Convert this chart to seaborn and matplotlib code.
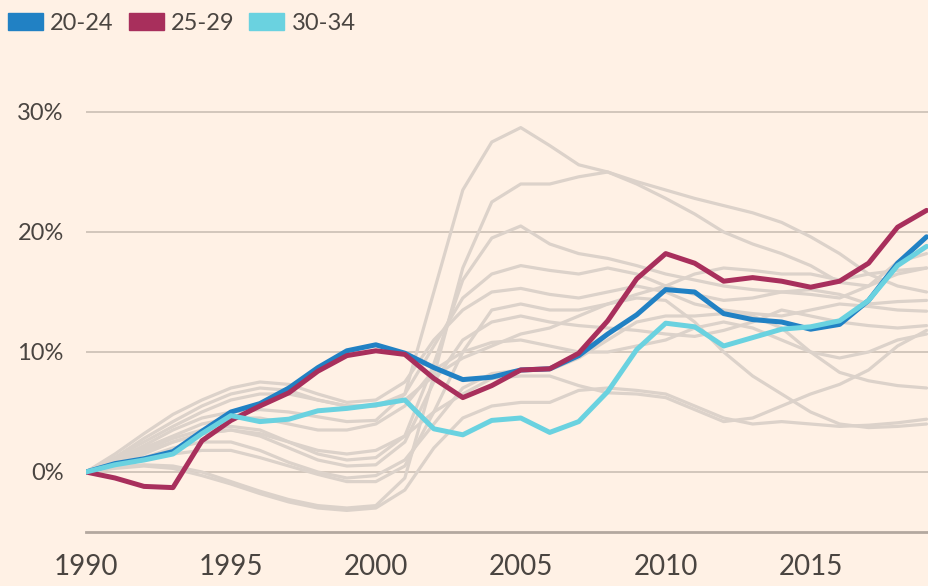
import matplotlib
matplotlib.use("Agg")
import matplotlib.pyplot as plt
from matplotlib.patches import Patch
import seaborn as sns
import pandas as pd

years = list(range(1990, 2020))

age_20_24 = [0, 0.7, 1.1, 1.7, 3.4, 5.0, 5.7, 7.0, 8.7, 10.1, 10.6, 9.9, 8.7, 7.7, 7.9,
             8.5, 8.6, 9.7, 11.5, 13.1, 15.2, 15.0, 13.2, 12.7, 12.5, 11.9, 12.3, 14.3, 17.4, 19.6]
age_25_29 = [0, -0.5, -1.2, -1.3, 2.6, 4.3, 5.5, 6.6, 8.4, 9.7, 10.1, 9.8, 7.8, 6.2, 7.2,
             8.5, 8.6, 9.9, 12.6, 16.1, 18.2, 17.4, 15.9, 16.2, 15.9, 15.4, 15.9, 17.4, 20.4, 21.8]
age_30_34 = [0, 0.6, 1.0, 1.5, 3.2, 4.7, 4.2, 4.4, 5.1, 5.3, 5.6, 6.0, 3.6, 3.1, 4.3,
             4.5, 3.3, 4.2, 6.7, 10.2, 12.4, 12.1, 10.5, 11.2, 11.9, 12.1, 12.6, 14.3, 17.2, 18.8]

# other age groups drawn in the background
other_groups = [
    [0, 1.0, 2.2, 3.5, 4.5, 5.0, 5.2, 5.0, 4.6, 4.2, 4.3, 6.5, 15.0, 23.5, 27.5,
     28.7, 27.2, 25.6, 25.0, 24.2, 23.5, 22.8, 22.2, 21.6, 20.8, 19.6, 18.2, 16.5, 15.5, 15.0],
    [0, 0.4, 0.6, 0.5, 0.0, -0.8, -1.6, -2.3, -2.8, -3.0, -2.8, -0.5, 8.0, 17.0, 22.5,
     24.0, 24.0, 24.6, 25.0, 24.0, 22.8, 21.5, 20.0, 19.0, 18.2, 17.2, 15.8, 15.5, 16.5, 17.0],
    [0, 0.8, 1.8, 2.8, 3.5, 3.8, 3.5, 2.5, 1.5, 1.0, 1.2, 3.0, 9.0, 16.0, 19.5,
     20.5, 19.0, 18.2, 17.8, 17.2, 16.5, 16.0, 15.5, 15.2, 15.0, 14.8, 14.5, 15.5, 17.5, 18.2],
    [0, 1.2, 2.8, 4.2, 5.5, 6.5, 7.0, 6.8, 6.0, 5.5, 5.5, 6.5, 10.5, 14.5, 16.5,
     17.2, 16.8, 16.5, 17.0, 16.5, 15.5, 14.8, 14.3, 14.5, 15.0, 15.2, 14.8, 14.0, 14.2, 14.3],
    [0, 1.5, 3.2, 4.8, 6.0, 7.0, 7.5, 7.3, 6.5, 5.8, 6.0, 7.5, 11.0, 13.5, 15.0,
     15.3, 14.8, 14.5, 15.0, 15.5, 15.0, 14.0, 13.5, 13.2, 13.0, 13.5, 14.0, 13.8, 13.5, 13.4],
    [0, 0.8, 1.6, 2.5, 3.2, 3.5, 3.0, 2.0, 1.0, 0.5, 0.6, 2.5, 7.5, 11.0, 12.5,
     13.0, 12.5, 12.2, 12.0, 11.8, 11.5, 11.3, 11.8, 12.5, 13.5, 13.0, 12.5, 12.2, 12.0, 12.2],
    [0, 1.0, 2.0, 3.0, 4.0, 4.5, 4.5, 4.0, 3.5, 3.5, 4.0, 5.5, 8.5, 10.0, 10.8,
     11.0, 10.5, 10.0, 10.0, 10.5, 11.0, 12.0, 12.5, 12.0, 11.0, 10.0, 9.5, 10.0, 11.0, 11.5],
    [0, 0.5, 1.2, 2.0, 2.5, 2.5, 1.8, 0.8, 0.0, -0.5, -0.3, 1.0, 4.0, 7.0, 8.2,
     8.5, 8.5, 9.5, 11.0, 12.5, 13.0, 13.0, 13.2, 13.0, 12.0, 10.0, 8.3, 7.6, 7.2, 7.0],
    [0, 0.6, 1.5, 2.5, 3.2, 3.5, 3.2, 2.5, 1.8, 1.5, 1.8, 3.0, 5.0, 6.5, 7.8,
     8.0, 8.0, 7.2, 6.6, 6.5, 6.2, 5.2, 4.2, 4.5, 5.5, 6.5, 7.3, 8.5, 10.5, 11.8],
    [0, 0.3, 0.5, 0.3, -0.3, -1.0, -1.8, -2.5, -3.0, -3.2, -3.0, -1.5, 2.0, 4.5, 5.5,
     5.8, 5.8, 6.8, 7.0, 6.8, 6.5, 5.5, 4.5, 4.0, 4.2, 4.0, 3.8, 3.9, 4.1, 4.4],
    [0, 1.2, 2.5, 3.8, 5.0, 6.0, 6.5, 6.5, 6.0, 5.5, 5.5, 6.0, 8.0, 9.5, 10.5,
     11.5, 12.0, 13.0, 14.0, 14.5, 14.3, 12.5, 10.0, 8.0, 6.5, 5.0, 4.0, 3.7, 3.8, 4.0],
    [0, 0.5, 1.0, 1.5, 1.8, 1.8, 1.2, 0.5, -0.2, -0.8, -0.8, 0.5, 5.0, 10.0, 13.5,
     14.0, 13.5, 13.5, 14.0, 14.8, 15.5, 16.5, 17.0, 16.8, 16.5, 16.5, 16.0, 16.5, 16.8, 17.0],
]

labels = ["20-24", "25-29", "30-34"]
colors = ["#2181c4", "#a82f5c", "#6ad2e0"]
bg = "#fff1e5"

gray = pd.DataFrame([(i, y, v) for i, g in enumerate(other_groups) for y, v in zip(years, g)],
                    columns=["group", "year", "value"])
main = pd.DataFrame({"year": years * 3,
                     "value": age_20_24 + age_25_29 + age_30_34,
                     "age": [l for l in labels for _ in years]})

sns.set_theme(style="white")
plt.rcParams["font.family"] = ["Lato", "DejaVu Sans"]

fig = plt.figure(figsize=(9.29, 5.86), dpi=100, facecolor=bg)
ax = fig.add_axes([86 / 929, 54 / 586, 842 / 929, 432 / 586], facecolor=bg)

sns.lineplot(data=gray, x="year", y="value", units="group", estimator=None,
             color="#dcd2ca", lw=2.3, ax=ax, legend=False)
sns.lineplot(data=main, x="year", y="value", hue="age", palette=colors,
             lw=3.6, ax=ax, legend=False)

ax.set_xlim(1990, 2019.05)
ax.set_ylim(-5, 31)
ax.set_yticks([0, 10, 20, 30])
ax.set_yticklabels(["0%", "10%", "20%", "30%"])
ax.set_xticks(range(1990, 2020, 5))
ax.set_xlabel("")
ax.set_ylabel("")
ax.grid(axis="y", color="#cfc3b8", lw=1.3)
ax.set_axisbelow(True)
for s in ["top", "left", "right"]:
    ax.spines[s].set_visible(False)
ax.spines["bottom"].set_color("#b3a89f")
ax.spines["bottom"].set_linewidth(2)
ax.tick_params(axis="x", direction="out", length=9, width=1.3, color="#b3a89f",
               pad=7, labelsize=20, labelcolor="#4a4541")
ax.tick_params(axis="y", length=0, pad=16, labelsize=17, labelcolor="#4a4541")

handles = [Patch(color=c, label=l) for c, l in zip(colors, labels)]
fig.legend(handles=handles, loc="upper left", bbox_to_anchor=(8 / 929, 1 - 13 / 586), ncol=3,
           frameon=False, fontsize=17, handlelength=1.48, handleheight=0.76,
           handletextpad=0.3, columnspacing=0.64, borderpad=0, borderaxespad=0,
           labelcolor="#4a4541")

fig.savefig("out.png", dpi=100, facecolor=bg)
